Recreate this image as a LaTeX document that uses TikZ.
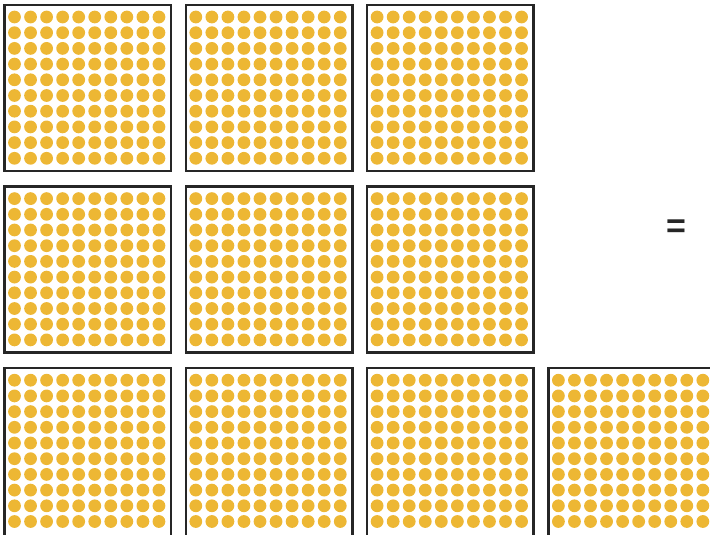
\documentclass[tikz,border=0pt]{standalone}
\usepackage{fontspec}
\setmainfont{Liberation Sans}
\definecolor{dotyellow}{HTML}{EDB734}
\definecolor{framegray}{HTML}{262626}
\begin{document}
\begin{tikzpicture}[x=1pt,y=-1pt,
  frame/.style={draw=framegray,line width=2.4pt},
  counter/.style={fill=dotyellow},
  eqsign/.style={text=framegray,inner sep=0pt,font=\fontsize{34}{34}\selectfont\bfseries}]
\useasboundingbox (0,0) rectangle (710,535);
\clip (0,0) rectangle (710,535);
\foreach \c/\r/\h in {0/0/166,1/0/166,2/0/166,0/1/166,1/1/166,2/1/166,0/2/172,1/2/172,2/2/172,3/2/172}{
  \pgfmathsetmacro{\bx}{4.5+181.3*\c}
  \pgfmathsetmacro{\by}{5+181.6*\r}
  \foreach \i in {0,...,9}{
    \foreach \j in {0,...,9}{
      \fill[counter] (\bx+10+16.05*\i,\by+12+15.7*\j) circle (6.4);
    }
  }
  \draw[frame] (\bx,\by) rectangle ++(166.5,\h);
}
\node[eqsign] (eq) at (676,228.5) {=};
\end{tikzpicture}
\end{document}
